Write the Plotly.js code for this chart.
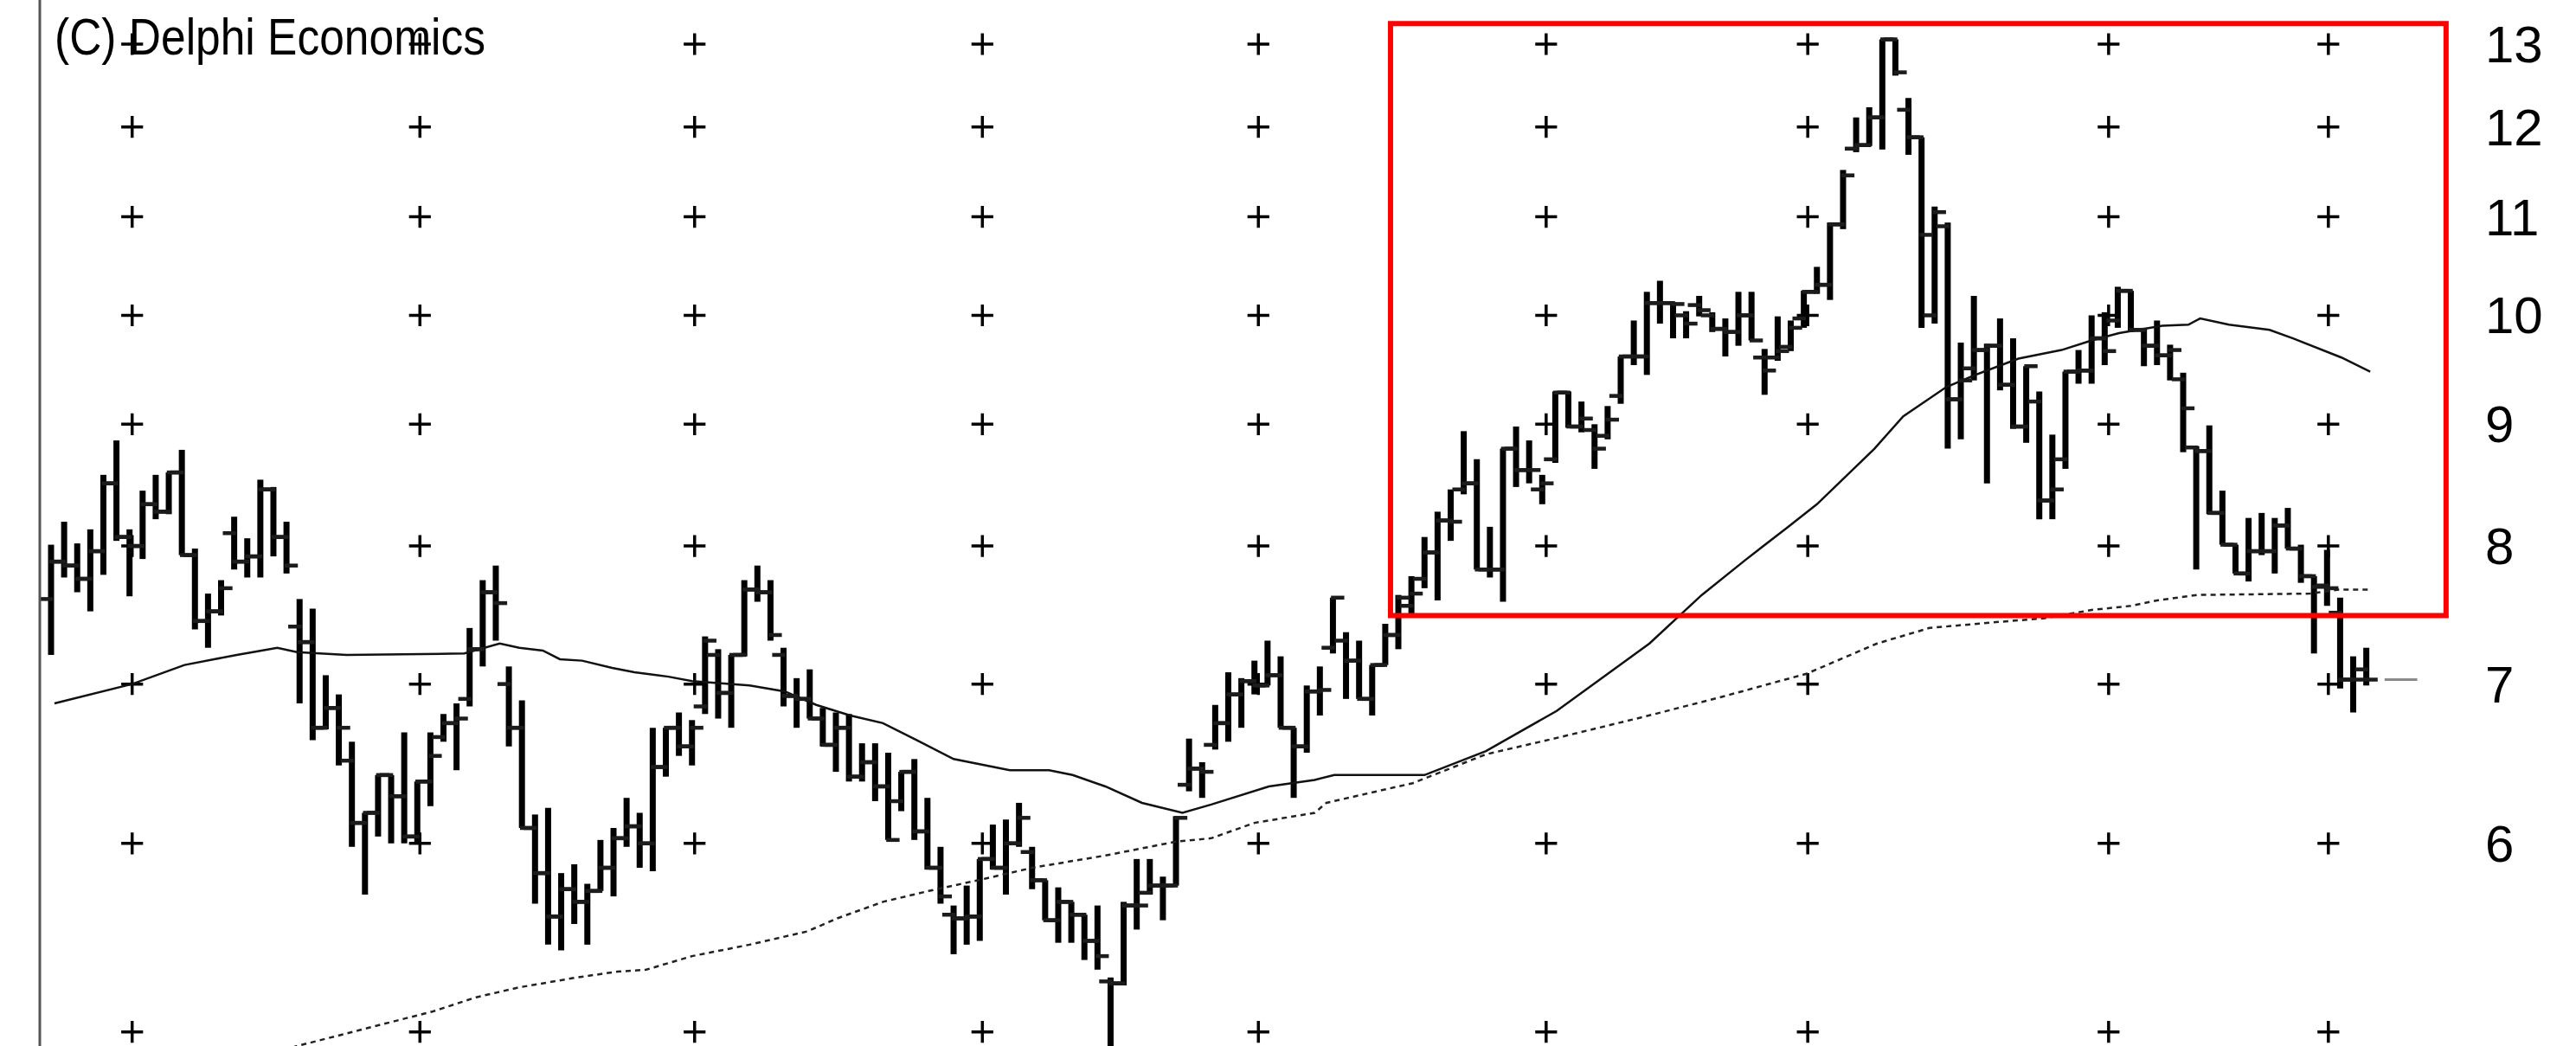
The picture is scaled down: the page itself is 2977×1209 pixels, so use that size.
<!DOCTYPE html>
<html><head><meta charset="utf-8">
<script src="https://cdn.plot.ly/plotly-3.0.1.min.js"></script>
<style>html,body{margin:0;padding:0;background:#fff;overflow:hidden}#chart{width:2977px;height:1209px}</style>
</head><body><div id="chart"></div>
<script>
// ---- data (daily bars) ----
const opens = [
7.60,7.88,7.85,7.75,7.96,8.50,8.07,8.00,8.33,8.27,
8.59,7.93,7.44,7.51,8.10,7.88,7.92,8.45,8.07,7.40,
7.29,6.71,6.84,6.50,6.12,6.18,6.41,6.28,6.04,6.37,
6.65,6.74,6.90,7.24,7.65,7.00,6.71,6.09,5.83,5.59,
5.74,5.67,5.73,5.86,6.03,6.10,6.00,6.46,6.71,6.59,
6.85,7.20,6.94,7.20,7.67,7.65,7.20,6.92,6.90,6.77,
6.60,6.71,6.40,6.49,6.34,6.25,6.43,6.07,5.86,5.60,
5.58,5.59,5.91,5.86,6.00,5.95,5.79,5.57,5.67,5.60,
5.46,5.25,5.24,5.65,5.72,5.76,5.76,6.35,6.45,6.60,
6.74,6.93,7.02,6.99,7.06,6.71,6.59,6.95,7.25,7.30,
7.16,6.90,7.13,7.34,7.55,7.75,7.95,8.20,8.45,8.50,
7.82,7.82,8.79,8.61,8.45,8.70,9.28,8.98,8.95,8.90,
9.25,9.61,9.61,10.12,10.12,10.00,10.10,10.00,9.87,9.84,
10.00,9.60,9.60,9.70,9.97,10.23,10.30,10.92,11.75,11.79,
12.11,13.06,12.20,11.88,10.00,10.90,9.22,9.50,9.67,9.71,
9.35,8.98,9.20,8.36,8.70,9.47,9.48,9.78,9.95,10.24,
9.86,9.71,9.62,9.40,8.80,8.77,8.26,8.01,7.79,7.96,
7.96,8.16,7.98,7.77,7.70,7.50,7.03,7.10];
const highs = [
8.01,8.19,8.02,8.13,8.57,8.86,8.13,8.44,8.57,8.59,
8.78,7.98,7.64,7.74,8.23,8.06,8.53,8.47,8.19,7.60,
7.53,7.06,6.93,6.62,6.18,6.41,6.41,6.68,6.37,6.68,
6.80,6.87,7.39,7.74,7.85,7.12,6.89,6.17,6.21,5.83,
5.88,5.77,6.02,6.09,6.27,6.18,6.71,6.71,6.81,6.76,
7.33,7.24,7.20,7.74,7.85,7.74,7.25,7.04,7.10,6.84,
6.81,6.80,6.61,6.61,6.55,6.43,6.51,6.27,5.98,5.65,
5.76,5.91,6.11,6.14,6.24,5.98,5.79,5.75,5.67,5.60,
5.65,5.27,5.67,5.91,5.91,5.81,6.16,6.64,6.49,6.86,
7.08,7.04,7.16,7.30,7.19,6.71,6.99,7.12,7.61,7.36,
7.30,7.13,7.42,7.63,7.77,8.07,8.27,8.45,8.94,8.70,
8.15,8.79,8.98,8.86,8.57,9.29,9.29,9.20,9.00,9.16,
9.61,9.95,10.23,10.34,10.13,10.04,10.19,10.03,9.97,10.23,
10.23,9.68,9.99,9.95,10.24,10.48,10.94,11.51,12.11,12.23,
13.06,13.06,12.34,11.88,11.11,10.94,9.74,10.19,9.73,9.97,
9.78,9.52,9.29,8.91,9.47,9.67,10.00,10.03,10.28,10.24,
9.88,9.95,9.72,9.46,8.81,8.99,8.44,8.01,8.22,8.26,
8.22,8.30,8.01,7.77,7.97,7.61,7.19,7.25];
const lows = [
7.20,7.76,7.65,7.51,7.78,8.04,7.62,7.90,8.21,8.25,
7.93,7.38,7.25,7.48,7.82,7.76,7.76,7.92,7.79,6.87,
6.63,6.70,6.47,5.98,5.71,6.04,6.00,6.00,6.00,6.22,
6.62,6.44,6.85,7.12,7.30,6.59,6.09,5.66,5.44,5.41,
5.55,5.44,5.73,5.70,5.98,5.86,5.84,6.40,6.53,6.47,
6.80,6.77,6.71,7.19,7.58,7.30,6.85,6.71,6.77,6.59,
6.43,6.37,6.37,6.25,6.02,6.19,6.02,5.85,5.66,5.39,
5.44,5.46,5.85,5.71,5.98,5.74,5.57,5.45,5.45,5.36,
5.31,4.85,5.23,5.52,5.71,5.57,5.76,6.31,6.27,6.57,
6.62,6.71,6.93,6.99,6.71,6.27,6.55,6.79,7.21,6.90,
6.90,6.79,7.13,7.24,7.48,7.68,7.59,8.04,8.41,7.82,
7.76,7.58,8.47,8.50,8.33,8.67,8.97,8.93,8.62,8.87,
9.18,9.53,9.44,9.92,9.78,9.78,9.99,9.84,9.61,9.71,
9.76,9.26,9.57,9.66,9.88,10.21,10.15,10.87,11.71,11.78,
11.74,12.61,11.68,9.88,9.92,8.79,8.87,9.39,8.50,9.30,
8.96,8.84,8.21,8.21,8.62,9.36,9.36,9.53,9.88,9.84,
9.52,9.53,9.39,8.76,7.82,8.25,8.01,7.79,7.73,7.93,
7.79,7.98,7.72,7.21,7.55,6.97,6.81,6.99];
const closes = [
7.88,7.85,7.75,7.96,8.50,8.07,8.00,8.33,8.27,8.59,
7.93,7.44,7.51,7.68,7.88,7.92,8.45,8.07,7.85,7.29,
6.71,6.84,6.71,6.12,6.18,6.41,6.28,6.04,6.37,6.53,
6.74,6.77,7.24,7.65,7.57,6.71,6.09,5.83,5.59,5.74,
5.67,5.73,5.86,6.03,6.10,6.00,6.46,6.71,6.59,6.71,
7.30,6.94,7.20,7.67,7.65,7.34,6.92,6.90,6.77,6.60,
6.71,6.40,6.49,6.34,6.02,6.43,6.07,5.86,5.70,5.58,
5.59,5.91,5.86,6.00,6.15,5.79,5.57,5.67,5.60,5.46,
5.38,5.24,5.65,5.65,5.76,5.76,6.15,6.45,6.43,6.74,
6.93,7.02,6.99,7.06,6.71,6.59,6.95,6.96,7.61,7.16,
6.90,7.13,7.34,7.61,7.64,7.95,8.20,8.19,8.50,7.82,
7.82,8.79,8.61,8.61,8.50,9.28,8.98,9.05,8.79,9.04,
9.61,9.61,10.12,10.12,10.11,9.92,10.05,9.87,9.84,10.00,
9.76,9.48,9.66,9.88,10.23,10.30,10.92,11.45,11.79,12.11,
13.06,12.65,11.88,10.81,11.05,9.22,9.39,9.67,9.71,9.35,
8.98,9.52,8.36,8.45,9.47,9.48,9.78,9.66,10.24,9.86,
9.71,9.62,9.67,9.14,8.77,8.26,8.01,7.79,7.96,7.96,
8.16,7.98,7.77,7.69,7.68,7.03,7.03,7.03];

// moving averages (bar position, price)
const fastMaBar = [0.26,6.2,10.2,14.2,17.3,18.8,22.6,31.6,34.3,35.8,37.6,38.9,40.6,42.9,44.6,47.2,49.0,
 53.4,56.1,58.5,61.1,63.6,66.2,69.0,73.3,76.3,78.1,80.6,83.4,86.5,88.7,93.1,96.6,98.1,105.0,109.7,115.1,
 122.2,126.2,129.5,132.8,135.0,139.4,141.6,144.9,147.1,150.4,153.7,156.0,158.1,161.4,163.4,164.3,166.5,169.6,171.4,175.1,177.3];
const fastMaVal = [6.87,7.00,7.13,7.20,7.25,7.22,7.20,7.21,7.28,7.25,7.23,7.17,7.16,7.11,7.08,7.05,7.02,
 6.99,6.95,6.86,6.79,6.74,6.63,6.51,6.44,6.44,6.41,6.34,6.24,6.18,6.23,6.34,6.38,6.41,6.41,6.56,6.82,
 7.28,7.63,7.89,8.15,8.33,8.79,9.07,9.33,9.44,9.59,9.67,9.76,9.83,9.90,9.91,9.97,9.91,9.86,9.78,9.60,9.47];
const slowMaBar = [15.0,18.7,29.2,32.5,35.8,40.2,43.3,45.5,49.0,53.4,57.8,60.1,63.6,67.1,71.5,75.0,80.6,86.0,88.7,92.0,
 96.6,97.5,104.1,109.7,115.4,121.7,128.0,134.2,139.6,143.6,148.4,152.4,156.0,159.0,161.0,164.1,172.7,174.9,177.3];
const slowMaVal = [4.85,4.93,5.10,5.17,5.22,5.27,5.30,5.31,5.38,5.44,5.51,5.58,5.67,5.73,5.80,5.86,5.93,6.01,6.03,6.12,
 6.18,6.24,6.36,6.54,6.65,6.78,6.92,7.07,7.28,7.39,7.43,7.46,7.52,7.55,7.59,7.63,7.64,7.67,7.67];

// price axis ticks and the grid-cross columns (bar positions)
const priceTicks = [5,6,7,8,9,10,11,12,13];
const gridColumns = [6.2,28.2,49.2,71.2,92.3,114.3,134.3,157.3,174.1];
// highlighted region (bar positions / prices)
const boxBars = [102.4, 183.1];
const boxPrices = [7.48, 13.26];
const titleText = '(C) Delphi Economics';

// ---- build ----
const barPos = opens.map((_, i) => i);
const crossX = [], crossY = [];
gridColumns.forEach(gx => priceTicks.forEach(p => { crossX.push(gx); crossY.push(p); }));
const lastIdx = barPos[barPos.length - 1];
const lastClose = closes[closes.length - 1];
const tickShift = 0.36;   // open/close tick offset, in bar units

const traces = [
  {type:'scatter', mode:'markers', x:crossX, y:crossY, hoverinfo:'skip',
   marker:{symbol:'cross-thin', size:18, line:{width:3.5, color:'#000'}, color:'#000'}},
  {type:'scatter', mode:'lines', x:slowMaBar, y:slowMaVal, hoverinfo:'skip',
   line:{color:'#222', width:2.5, dash:'6px,5px'}},
  {type:'scatter', mode:'lines', x:fastMaBar, y:fastMaVal, hoverinfo:'skip',
   line:{color:'#111', width:2.5}},
  {type:'scatter', mode:'markers', x:barPos.map(i => i - tickShift), y:opens, hoverinfo:'skip',
   marker:{symbol:'line-ew', size:11, line:{width:4.5, color:'#1c1c1c'}}},
  {type:'scatter', mode:'markers', x:barPos.map(i => i + tickShift), y:closes, hoverinfo:'skip',
   marker:{symbol:'line-ew', size:11, line:{width:4.5, color:'#1c1c1c'}}},
  {type:'ohlc', x:barPos, open:opens, high:highs, low:lows, close:closes, hoverinfo:'skip',
   tickwidth:0,
   increasing:{line:{color:'#000', width:7}},
   decreasing:{line:{color:'#000', width:7}}}
];

const layout = {
  width:2977, height:1209,
  margin:{l:46, r:132, t:0, b:0, pad:0},
  paper_bgcolor:'#fff', plot_bgcolor:'#fff',
  showlegend:false,
  title:{text:titleText, x:63/2977, xanchor:'left', xref:'container', y:1-42/1209, yanchor:'middle', yref:'container',
         font:{family:'"Liberation Sans", Arial, sans-serif', size:60, color:'#000'}},
  xaxis:{range:[-0.86, 184.3], showgrid:false, zeroline:false, showticklabels:false, ticks:'', showline:false,
         rangeslider:{visible:false}, fixedrange:true},
  yaxis:{type:'log', range:[Math.log10(4.932), Math.log10(13.567)], side:'right', showgrid:false, zeroline:false,
         showline:false, ticks:'', tickvals:priceTicks, ticktext:priceTicks.map(String), ticklabelstandoff:26,
         tickfont:{family:'"Liberation Sans", Arial, sans-serif', size:60, color:'#000'}, fixedrange:true},
  shapes:[
    {type:'line', xref:'paper', yref:'paper', x0:0, x1:0, y0:0, y1:1, line:{color:'#555', width:3}},
    {type:'line', xref:'x', yref:'y', x0:lastIdx+1.4, x1:lastIdx+3.9, y0:lastClose, y1:lastClose,
     line:{color:'#8a8a8a', width:3}},
    {type:'rect', xref:'x', yref:'y', x0:boxBars[0], x1:boxBars[1], y0:boxPrices[0], y1:boxPrices[1],
     line:{color:'#ff0000', width:6}, fillcolor:'rgba(0,0,0,0)', layer:'above'}
  ]
};

Plotly.newPlot('chart', traces, layout, {displayModeBar:false, staticPlot:true}).then(gd => {
  // the original uses a condensed face: squeeze the title glyphs to the original width
  const t = gd.querySelector('.gtitle');
  if (t) { t.setAttribute('textLength', '498'); t.setAttribute('lengthAdjust', 'spacingAndGlyphs'); }
});
</script>
</body></html>
